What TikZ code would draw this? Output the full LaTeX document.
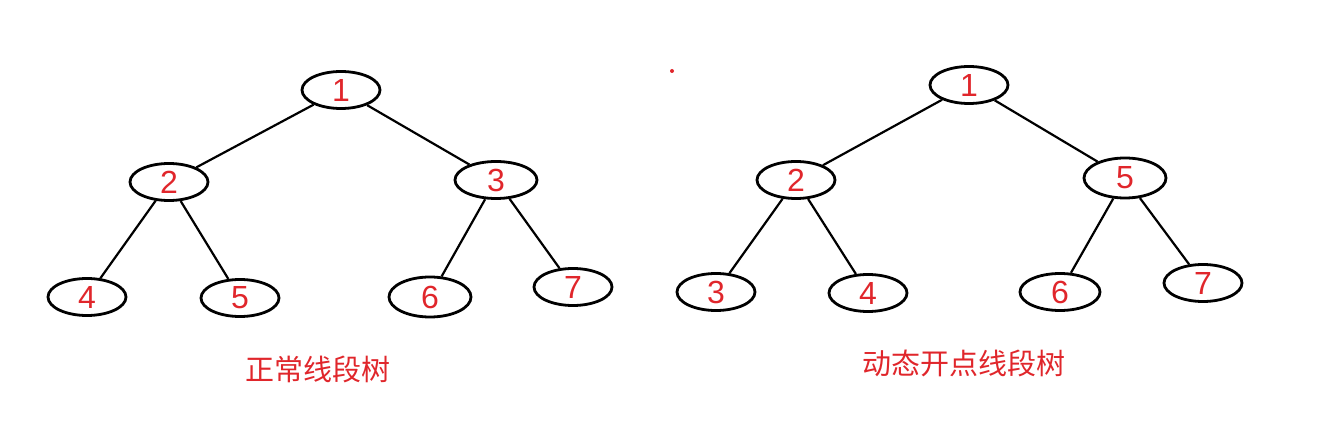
\documentclass[tikz,border=0pt]{standalone}
\usepackage{fontspec}
\setmainfont{Liberation Sans}
\newfontfamily\cjk{Noto Sans CJK SC}
\usetikzlibrary{shapes.geometric}
\definecolor{inkred}{HTML}{E0262B}
\tikzset{
  tnode/.style={ellipse, draw=black, line width=2.8pt, minimum width=78pt, minimum height=37pt, inner sep=0pt, text=inkred, font=\fontsize{32}{34}\selectfont},
  tedge/.style={draw=black, line width=2.2pt},
  caption/.style={text=inkred, font=\cjk\fontsize{29}{32}\selectfont, inner sep=0pt}
}
\begin{document}
\begin{tikzpicture}[x=1pt,y=-1pt]
\useasboundingbox (0,0) rectangle (1331,443);
% left tree
\node[tnode] (a1) at (341,90) {1};
\node[tnode] (a2) at (169,182) {2};
\node[tnode, minimum width=82pt] (a3) at (496,180) {3};
\node[tnode] (a4) at (87,297) {4};
\node[tnode] (a5) at (240,298) {5};
\node[tnode, minimum width=82pt, minimum height=40pt] (a6) at (430,297) {6};
\node[tnode] (a7) at (573,287) {7};
\draw[tedge] (a1) -- (a2);
\draw[tedge] (a1) -- (a3);
\draw[tedge] (a2) -- (a4);
\draw[tedge] (a2) -- (a5);
\draw[tedge] (a3) -- (a6);
\draw[tedge] (a3) -- (a7);
\node[caption] (c1) at (318,369) {正常线段树};
% right tree
\node[tnode] (b1) at (969,85) {1};
\node[tnode] (b2) at (796,180) {2};
\node[tnode, minimum width=82pt, minimum height=40pt] (b3) at (1125,178) {5};
\node[tnode] (b4) at (716,292) {3};
\node[tnode] (b5) at (868,293) {4};
\node[tnode, minimum width=80pt] (b6) at (1060,292) {6};
\node[tnode] (b7) at (1203,283) {7};
\draw[tedge] (b1) -- (b2);
\draw[tedge] (b1) -- (b3);
\draw[tedge] (b2) -- (b4);
\draw[tedge] (b2) -- (b5);
\draw[tedge] (b3) -- (b6);
\draw[tedge] (b3) -- (b7);
\node[caption] (c2) at (964,363) {动态开点线段树};
% stray dot
\fill[inkred] (672,71) circle (2pt);
\end{tikzpicture}
\end{document}
